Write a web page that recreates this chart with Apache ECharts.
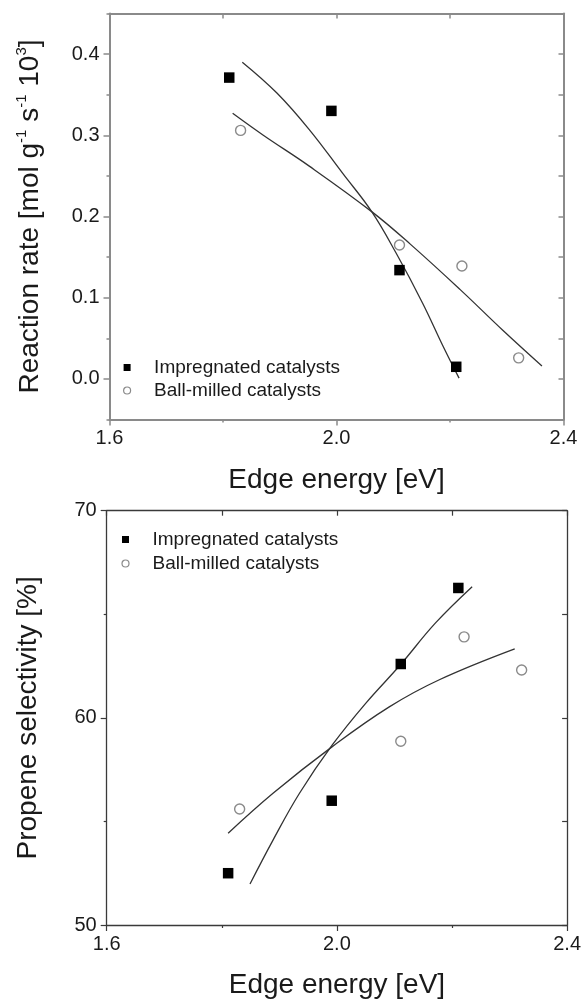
<!DOCTYPE html>
<html>
<head>
<meta charset="utf-8">
<script src="https://cdn.jsdelivr.net/npm/echarts@6/dist/echarts.min.js"></script>
<style>
  html, body { margin: 0; padding: 0; background: #fff; }
  #chart { width: 584px; height: 1001px; }
</style>
</head>
<body>
<div id="chart"></div>
<script>
// ---- data ----
const legendNames = ['Impregnated catalysts', 'Ball-milled catalysts'];

const impregnatedEnergy = [1.811, 1.991, 2.111, 2.211];
const ballMilledEnergy  = [1.831, 2.111, 2.221, 2.321];

const impregnatedRate = [0.371, 0.330, 0.134, 0.015];
const ballMilledRate  = [0.306, 0.165, 0.139, 0.026];

const impregnatedSelectivity = [52.50, 56.00, 62.60, 66.27];
const ballMilledSelectivity  = [55.60, 58.87, 63.91, 62.31];

// fitted curves
const impRateFitX  = [1.834, 1.895, 1.952, 2.011, 2.062, 2.105, 2.152, 2.188, 2.216];
const impRateFitY  = [0.390, 0.352, 0.307, 0.253, 0.206, 0.155, 0.093, 0.040, 0.001];
const ballRateFitX = [1.817, 1.871, 1.952, 2.062, 2.130, 2.218, 2.293, 2.362];
const ballRateFitY = [0.327, 0.300, 0.262, 0.206, 0.166, 0.110, 0.060, 0.016];

const impSelFitX  = [1.849, 1.889, 1.935, 1.992, 2.050, 2.110, 2.171, 2.235];
const impSelFitY  = [51.98, 54.10, 56.36, 58.69, 60.70, 62.55, 64.57, 66.33];
const ballSelFitX = [1.811, 1.889, 1.992, 2.091, 2.178, 2.309];
const ballSelFitY = [54.43, 56.36, 58.61, 60.53, 61.84, 63.33];

const rateMajorTicks = [0.0, 0.1, 0.2, 0.3, 0.4];

// ---- helpers ----
const zip = (xs, ys) => xs.map((x, i) => [x, ys[i]]);
const FONT = "'Liberation Sans', Arial, Helvetica, sans-serif";
const TXT = '#1a1a1a';
const topFrame = '#8a8a8a';
const botFrame = '#3a3a3a';
const fitColor = '#333333';
const SQUARE_ICON = 'path://M0,0H10V10H0Z';
const CIRCLE_ICON = 'path://M0,5A5,5 0 1 1 10,5A5,5 0 1 1 0,5Z';

const chart = echarts.init(document.getElementById('chart'), null, { renderer: 'canvas' });

function scatterSeries(name, xs, ys, xi, yi, filled) {
  return {
    type: 'scatter', name: name, xAxisIndex: xi, yAxisIndex: yi,
    data: zip(xs, ys),
    symbol: filled ? 'rect' : 'circle',
    symbolSize: filled ? 10.5 : 10,
    itemStyle: filled
      ? { color: '#000', opacity: 1 }
      : { color: '#fff', borderColor: '#8a8a8a', borderWidth: 1.4, opacity: 1 },
    z: 5, silent: true
  };
}
function fitSeries(xs, ys, xi, yi) {
  return {
    type: 'line', xAxisIndex: xi, yAxisIndex: yi,
    data: zip(xs, ys), smooth: 0.4, showSymbol: false, symbol: 'none',
    lineStyle: { color: fitColor, width: 1.3 }, z: 3, silent: true
  };
}
function legendBlock(left, top, gap) {
  return {
    orient: 'vertical', left: left, top: top,
    itemWidth: 44, itemHeight: 7, itemGap: gap, symbolKeepAspect: true,
    textStyle: { fontSize: 19, color: TXT, fontFamily: FONT },
    selectedMode: false,
    data: [
      { name: legendNames[0], icon: SQUARE_ICON, itemStyle: { color: '#000', borderWidth: 0, opacity: 1 } },
      { name: legendNames[1], icon: CIRCLE_ICON,
        itemStyle: { color: '#fff', borderColor: '#8a8a8a', borderWidth: 1.2, opacity: 1 } }
    ]
  };
}

const option = {
  animation: false,
  backgroundColor: '#fff',
  textStyle: { fontFamily: FONT },
  grid: [
    { left: 109.5, top: 13.4, width: 454, height: 406.2 },
    { left: 106.7, top: 510.7, width: 462, height: 414.3 }
  ],
  legend: [ legendBlock(118, 353, 4), legendBlock(116.4, 525, 5) ],
  xAxis: [
    {
      type: 'value', gridIndex: 0, position: 'bottom', min: 1.6, max: 2.4, interval: 0.4,
      axisLine: { show: true, onZero: false, lineStyle: { color: topFrame, width: 2 } },
      axisTick: { show: true, inside: false, length: 6, lineStyle: { color: topFrame, width: 1.5 } },
      minorTick: { show: true, splitNumber: 2, length: 3, lineStyle: { color: topFrame, width: 1.5 } },
      axisLabel: { fontSize: 20, color: TXT, margin: 9, formatter: v => v.toFixed(1) },
      splitLine: { show: false }, minorSplitLine: { show: false },
      name: 'Edge energy [eV]', nameLocation: 'middle', nameGap: 47,
      nameTextStyle: { fontSize: 28, color: TXT, fontFamily: FONT }
    },
    {
      type: 'value', gridIndex: 0, position: 'top', min: 1.6, max: 2.4, interval: 0.2,
      axisLine: { show: true, onZero: false, lineStyle: { color: topFrame, width: 2 } },
      axisTick: { show: true, inside: true, length: 5, lineStyle: { color: topFrame, width: 1.5 } },
      axisLabel: { show: false }, splitLine: { show: false }
    },
    {
      type: 'value', gridIndex: 1, position: 'bottom', min: 1.6, max: 2.4, interval: 0.4,
      axisLine: { show: true, onZero: false, lineStyle: { color: botFrame, width: 1.3 } },
      axisTick: { show: true, inside: false, length: 6, lineStyle: { color: botFrame, width: 1.2 } },
      minorTick: { show: true, splitNumber: 2, length: 3, lineStyle: { color: botFrame, width: 1.2 } },
      axisLabel: { fontSize: 20, color: TXT, margin: 9, formatter: v => v.toFixed(1) },
      splitLine: { show: false }, minorSplitLine: { show: false },
      name: 'Edge energy [eV]', nameLocation: 'middle', nameGap: 46,
      nameTextStyle: { fontSize: 28, color: TXT, fontFamily: FONT }
    },
    {
      type: 'value', gridIndex: 1, position: 'top', min: 1.6, max: 2.4, interval: 0.2,
      axisLine: { show: true, onZero: false, lineStyle: { color: botFrame, width: 1.3 } },
      axisTick: { show: true, inside: true, length: 5, lineStyle: { color: botFrame, width: 1.2 } },
      axisLabel: { show: false }, splitLine: { show: false }
    }
  ],
  yAxis: [
    {
      type: 'value', gridIndex: 0, position: 'left', min: -0.05, max: 0.45, interval: 0.05,
      axisLine: { show: true, onZero: false, lineStyle: { color: topFrame, width: 2 } },
      axisTick: { show: true, inside: false, length: 3, lineStyle: { color: topFrame, width: 1.5 } },
      axisLabel: { show: false }, splitLine: { show: false }
    },
    {
      type: 'value', gridIndex: 0, position: 'left', min: -0.05, max: 0.45, interval: 0.05,
      axisLine: { show: false, onZero: false },
      axisTick: { show: true, inside: false, length: 6, customValues: rateMajorTicks,
                  lineStyle: { color: topFrame, width: 1.5 } },
      axisLabel: { show: true, customValues: rateMajorTicks, fontSize: 20, color: TXT, margin: 10,
                   formatter: v => Number(v).toFixed(1) },
      splitLine: { show: false },
      name: '{n|Reaction rate [mol g}{s|-1}{n| s}{s|-1}{n| 10}{s|3}{n|]}',
      nameLocation: 'middle', nameGap: 65,
      nameTextStyle: {
        color: TXT, fontFamily: FONT,
        rich: {
          n: { fontSize: 28, color: TXT, fontFamily: FONT, verticalAlign: 'bottom', lineHeight: 30 },
          s: { fontSize: 15, color: TXT, fontFamily: FONT, verticalAlign: 'top', lineHeight: 30 }
        }
      }
    },
    {
      type: 'value', gridIndex: 0, position: 'right', min: -0.05, max: 0.45, interval: 0.05,
      axisLine: { show: true, onZero: false, lineStyle: { color: topFrame, width: 2 } },
      axisTick: { show: true, inside: true, length: 5, lineStyle: { color: topFrame, width: 1.5 } },
      axisLabel: { show: false }, splitLine: { show: false }
    },
    {
      type: 'value', gridIndex: 1, position: 'left', min: 50, max: 70, interval: 10,
      axisLine: { show: true, onZero: false, lineStyle: { color: botFrame, width: 1.3 } },
      axisTick: { show: true, inside: false, length: 6, lineStyle: { color: botFrame, width: 1.2 } },
      minorTick: { show: true, splitNumber: 2, length: 3, lineStyle: { color: botFrame, width: 1.2 } },
      axisLabel: { fontSize: 20, color: TXT, margin: 10 },
      splitLine: { show: false }, minorSplitLine: { show: false },
      name: 'Propene selectivity [%]', nameLocation: 'middle', nameGap: 64,
      nameTextStyle: { fontSize: 28, color: TXT, fontFamily: FONT }
    },
    {
      type: 'value', gridIndex: 1, position: 'right', min: 50, max: 70, interval: 5,
      axisLine: { show: true, onZero: false, lineStyle: { color: botFrame, width: 1.3 } },
      axisTick: { show: true, inside: true, length: 5, lineStyle: { color: botFrame, width: 1.2 } },
      axisLabel: { show: false }, splitLine: { show: false }
    }
  ],
  series: [
    fitSeries(impRateFitX, impRateFitY, 0, 0),
    fitSeries(ballRateFitX, ballRateFitY, 0, 0),
    scatterSeries(legendNames[0], impregnatedEnergy, impregnatedRate, 0, 0, true),
    scatterSeries(legendNames[1], ballMilledEnergy, ballMilledRate, 0, 0, false),
    fitSeries(impSelFitX, impSelFitY, 2, 3),
    fitSeries(ballSelFitX, ballSelFitY, 2, 3),
    scatterSeries(legendNames[0], impregnatedEnergy, impregnatedSelectivity, 2, 3, true),
    scatterSeries(legendNames[1], ballMilledEnergy, ballMilledSelectivity, 2, 3, false)
  ]
};
chart.setOption(option);
</script>
</body>
</html>
